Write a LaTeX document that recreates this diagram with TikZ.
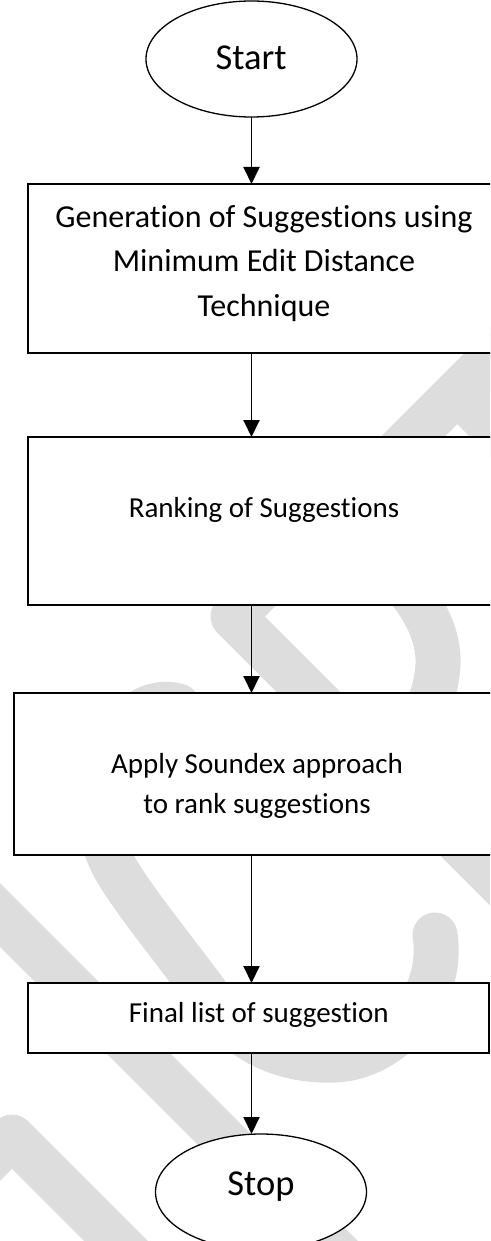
\documentclass[tikz,border=0pt]{standalone}
\usepackage{fontspec}
\setmainfont{Carlito}[Ligatures=NoCommon]
\usetikzlibrary{shapes.geometric,arrows.meta}
\definecolor{wm}{RGB}{221,221,221}
\begin{document}
\begin{tikzpicture}[x=1pt,y=-1pt,
  wmband/.style={draw=wm,line width=45pt,line cap=round,line join=round},
  box/.style={draw=black,fill=white,line width=1.6pt,inner sep=0pt,outer sep=0pt,rectangle},
  term/.style={draw=black,fill=white,line width=1.3pt,ellipse,inner sep=0pt,outer sep=0pt,minimum width=211pt,minimum height=116pt},
  arr/.style={line width=1.9pt,-{Triangle[length=17pt,width=16pt]}},
  txt/.style={anchor=base,inner sep=0pt,font=\fontsize{29}{35}\selectfont},
  bigtxt/.style={anchor=base,inner sep=0pt,font=\fontsize{32}{38}\selectfont},
  termtxt/.style={anchor=base,inner sep=0pt,font=\fontsize{36.5}{44}\selectfont}]
\useasboundingbox (0,0) rectangle (490,1241);
\clip (0,0) rectangle (490,1241);
\fill[white] (0,0) rectangle (490,1241);
% watermark
\draw[wmband] (560,289.5) -- (233,616.5) -- (680,1063.5);
\fill[wm] (457,424) -- (520,487) -- (520,300) -- (450,380) -- cycle;
\draw[wmband] (360,545) .. controls (410,580) and (440,625) .. (438,665) .. controls (436,695) and (425,720) .. (405,745);
\draw[wmband] (178,706) .. controls (120,690) and (80,790) .. (110,858) .. controls (123,888) and (175,950) .. (215,1005) .. controls (245,1046) and (290,1062) .. (335,1060) .. controls (390,1058) and (445,1000) .. (435,935);
\draw[wmband] (-40,875) -- (420,1335);
\draw[wmband] (-70,1219) -- (12,1137) -- (220,1345);
% shapes
\node[box,minimum width=472pt,minimum height=169pt] (b1) at (264,268.5) {};
\node[box,minimum width=472pt,minimum height=168pt] (b2) at (264,521) {};
\node[box,minimum width=486pt,minimum height=162pt] (b3) at (257,774) {};
\node[box,minimum width=461pt,minimum height=70pt] (b4) at (258.5,1018) {};
\node[term] (start) at (251.5,59) {};
\node[term] (stop) at (261,1192) {};
% texts
\node[termtxt] (tstart) at (251,70) {Start};
\node[bigtxt] (t1a) at (264,228) {Generation of Suggestions using};
\node[bigtxt] (t1b) at (264,272) {Minimum Edit Distance};
\node[bigtxt] (t1c) at (264,316) {Technique};
\node[txt] (t2) at (264,517) {Ranking of Suggestions};
\node[txt] (t3a) at (257,773) {Apply Soundex approach};
\node[txt] (t3b) at (257,813) {to rank suggestions};
\node[txt] (t4) at (258.8,1022) {Final list of suggestion};
\node[termtxt] (tstop) at (261,1195) {Stop};
% connectors
\draw[arr] (start.south) -- (b1.north -| start);
\draw[arr] (b1.south -| start) -- (b2.north -| start);
\draw[arr] (b2.south -| start) -- (b3.north -| start);
\draw[arr] (b3.south -| start) -- (b4.north -| start);
\draw[arr] (b4.south -| start) -- (stop.north -| start);
\end{tikzpicture}
\end{document}
